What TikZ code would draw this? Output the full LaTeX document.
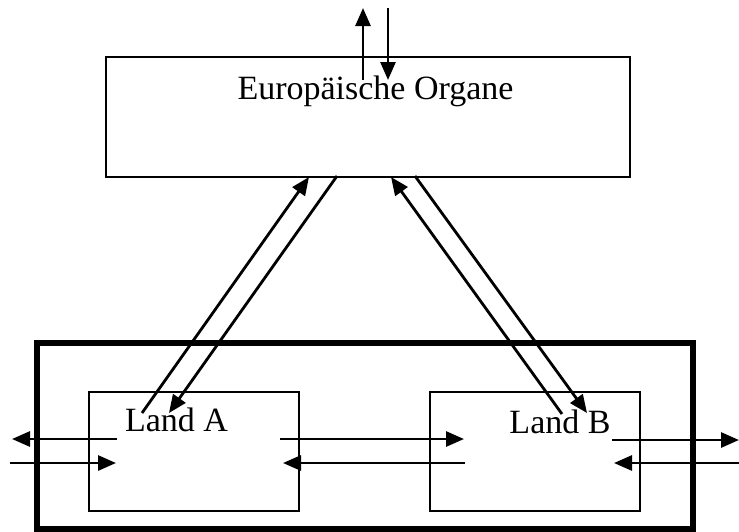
\documentclass[tikz,border=0pt]{standalone}
\usepackage{fontspec}
\setmainfont{Liberation Serif}
\usetikzlibrary{arrows.meta}
\begin{document}
\begin{tikzpicture}[x=0.5pt,y=-0.5pt,
  thinbox/.style={draw, line width=1.2pt, inner sep=0pt},
  thickbox/.style={draw, line width=2.8pt, inner sep=0pt},
  lbl/.style={font=\fontsize{17pt}{20pt}\selectfont, inner sep=0pt, anchor=base},
  flow/.style={line width=1.4pt, -{Triangle[length=9pt,width=7.5pt]}}]
\useasboundingbox (0,0) rectangle (739,531);
% boxes
\node (outer) [thickbox, minimum width=328pt, minimum height=93pt] at (365,436) {};
\node (eu) [thinbox, minimum width=262pt, minimum height=60pt] at (368,117) {};
\node (la) [thinbox, minimum width=105pt, minimum height=59.5pt] at (194,451.5) {};
\node (lb) [thinbox, minimum width=105pt, minimum height=59.5pt] at (535,451.5) {};
% labels
\node (eut) [lbl] at (375.5,99) {Europäische Organe};
\node (lat) [lbl] at (176.5,431) {Land A};
\node (lbt) [lbl] at (560,433) {Land B};
% free-end coordinates
\coordinate (t1a) at (363,80); \coordinate (t1b) at (363,8);
\coordinate (t2a) at (388,8); \coordinate (t2b) at (388,80);
\coordinate (d1a) at (142,413); \coordinate (d1b) at (309,177);
\coordinate (d2a) at (337,176); \coordinate (d2b) at (169,413);
\coordinate (d3a) at (562,414); \coordinate (d3b) at (391,177);
\coordinate (d4a) at (415,176); \coordinate (d4b) at (587,413);
\coordinate (h1a) at (117,439); \coordinate (h1b) at (12,439);
\coordinate (h2a) at (10,463); \coordinate (h2b) at (116,463);
\coordinate (h3a) at (280,439); \coordinate (h3b) at (464,439);
\coordinate (h4a) at (465,463); \coordinate (h4b) at (283,463);
\coordinate (h5a) at (612,440); \coordinate (h5b) at (739,440);
\coordinate (h6a) at (739,463); \coordinate (h6b) at (614,463);
% arrows
\draw[flow] (t1a) -- (t1b);
\draw[flow] (t2a) -- (t2b);
\draw[flow] (d1a) -- (d1b);
\draw[flow] (d2a) -- (d2b);
\draw[flow] (d3a) -- (d3b);
\draw[flow] (d4a) -- (d4b);
\draw[flow] (h1a) -- (h1b);
\draw[flow] (h2a) -- (h2b);
\draw[flow] (h3a) -- (h3b);
\draw[flow] (h4a) -- (h4b);
\draw[flow] (h5a) -- (h5b);
\draw[flow] (h6a) -- (h6b);
\end{tikzpicture}
\end{document}
